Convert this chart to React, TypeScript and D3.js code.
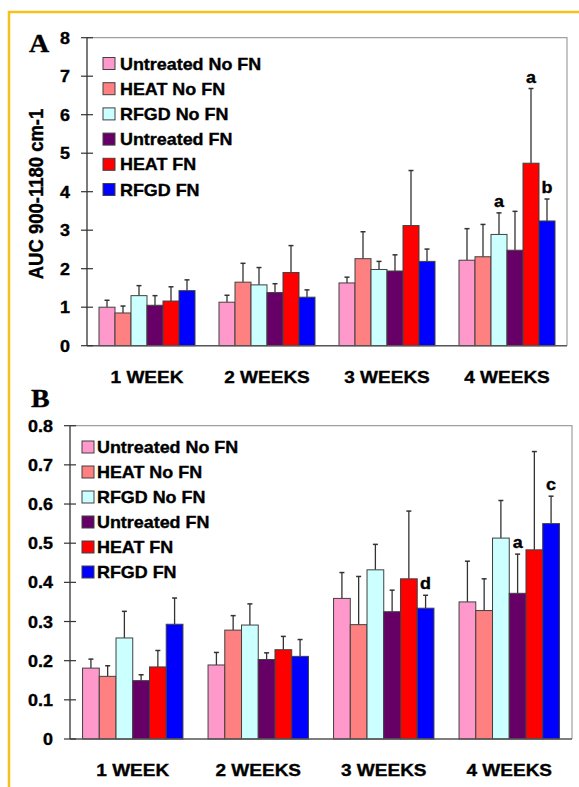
import React from "react";
import * as d3 from "d3";

// categories / series
const weeks = ["1 WEEK", "2 WEEKS", "3 WEEKS", "4 WEEKS"];
const seriesNames = ["Untreated No FN", "HEAT No FN", "RFGD No FN", "Untreated FN", "HEAT FN", "RFGD FN"];
const seriesColors = ["#ff99cc", "#ff8080", "#ccffff", "#660066", "#ff0000", "#0000ff"];

// panel A: AUC 900-1180 cm-1 (mean, sd per week)
const aucUntreatedNoFN = [1.0, 1.13, 1.63, 2.22];
const aucHeatNoFN = [0.85, 1.65, 2.26, 2.31];
const aucRfgdNoFN = [1.3, 1.58, 1.98, 2.89];
const aucUntreatedFN = [1.05, 1.38, 1.94, 2.48];
const aucHeatFN = [1.16, 1.9, 3.12, 4.74];
const aucRfgdFN = [1.43, 1.26, 2.19, 3.24];
const aucSdUntreatedNoFN = [0.18, 0.18, 0.15, 0.82];
const aucSdHeatNoFN = [0.18, 0.49, 0.7, 0.84];
const aucSdRfgdNoFN = [0.26, 0.45, 0.21, 0.56];
const aucSdUntreatedFN = [0.25, 0.23, 0.42, 1.01];
const aucSdHeatFN = [0.37, 0.7, 1.43, 1.94];
const aucSdRfgdFN = [0.28, 0.19, 0.32, 0.57];
const aTicks = [0, 1, 2, 3, 4, 5, 6, 7, 8];
const aNotes = [
  { week: 3, series: 2, label: "a" },
  { week: 3, series: 4, label: "a" },
  { week: 3, series: 5, label: "b" },
];

// panel B
const bUntreatedNoFN = [0.181, 0.189, 0.359, 0.35];
const bHeatNoFN = [0.16, 0.278, 0.292, 0.328];
const bRfgdNoFN = [0.258, 0.291, 0.432, 0.513];
const bUntreatedFN = [0.149, 0.203, 0.325, 0.372];
const bHeatFN = [0.184, 0.228, 0.409, 0.483];
const bRfgdFN = [0.293, 0.211, 0.334, 0.55];
const bSdUntreatedNoFN = [0.023, 0.032, 0.066, 0.104];
const bSdHeatNoFN = [0.027, 0.037, 0.123, 0.081];
const bSdRfgdNoFN = [0.068, 0.054, 0.065, 0.096];
const bSdUntreatedFN = [0.015, 0.017, 0.055, 0.1];
const bSdHeatFN = [0.042, 0.034, 0.173, 0.251];
const bSdRfgdFN = [0.067, 0.043, 0.033, 0.07];
const bTicks = [0, 0.1, 0.2, 0.3, 0.4, 0.5, 0.6, 0.7, 0.8];
const bNotes = [
  { week: 2, series: 5, label: "d" },
  { week: 3, series: 3, label: "a" },
  { week: 3, series: 5, label: "c" },
];

const SX = 1.12; // the original text is a bit wide
const FONT = "'Liberation Sans', Arial, sans-serif";

const T = ({ x, y, size, anchor = "start", children, rotate = 0, family = FONT }) => (
  <text
    transform={`translate(${x},${y}) scale(${SX},1)${rotate ? ` rotate(${rotate})` : ""}`}
    fontFamily={family}
    fontWeight="bold"
    fontSize={size}
    textAnchor={anchor}
    fill="#000"
    stroke="#000"
    strokeWidth={0.35}
  >
    {children}
  </text>
);

const Panel = ({ means, sds, ticks, tickFmt, notes, box, legend, letter, yLabel }) => {
  const { left, right, top, bottom, max } = box;
  const x0 = d3.scaleBand().domain(weeks).range([left, right]).paddingInner(0.2).paddingOuter(0.1);
  const x1 = d3.scaleBand().domain(seriesNames).range([0, x0.bandwidth()]);
  const y = d3.scaleLinear().domain([0, max]).range([bottom, top]);

  return (
    <g>
      {/* plot frame */}
      <path d={`M${left},${top}H${right}V${bottom}`} fill="none" stroke="#a0a0a0" strokeWidth={1.2} />
      {seriesNames.map((s, si) =>
        weeks.map((w, wi) => {
          const bx = x0(w) + x1(s);
          const v = means[si][wi];
          const e = v + sds[si][wi];
          const cx = bx + x1.bandwidth() / 2;
          return (
            <g key={s + w}>
              <line x1={cx} x2={cx} y1={y(v)} y2={y(e)} stroke="#333" strokeWidth={1.3} />
              <line x1={cx - 2.5} x2={cx + 2.5} y1={y(e)} y2={y(e)} stroke="#333" strokeWidth={1.5} />
              <rect x={bx} y={y(v)} width={x1.bandwidth()} height={bottom - y(v)} fill={seriesColors[si]} stroke="#404040" strokeWidth={1} />
            </g>
          );
        })
      )}
      {notes.map((n, i) => {
        const cx = x0(weeks[n.week]) + x1(seriesNames[n.series]) + x1.bandwidth() / 2;
        const e = means[n.series][n.week] + sds[n.series][n.week];
        return (
          <T key={i} x={cx} y={y(e) - 6} size={16} anchor="middle">
            {n.label}
          </T>
        );
      })}
      {/* axes */}
      <line x1={left} x2={left} y1={top} y2={bottom} stroke="#333" strokeWidth={1.3} />
      <line x1={left} x2={right} y1={bottom} y2={bottom} stroke="#555" strokeWidth={1.5} />
      {ticks.map((t) => (
        <g key={t}>
          <line x1={left - 6} x2={left + 6} y1={y(t)} y2={y(t)} stroke="#333" strokeWidth={1.2} />
          <T x={left - 17} y={y(t) + 6} size={16} anchor="end">
            {tickFmt(t)}
          </T>
        </g>
      ))}
      {weeks.map((w) => (
        <T key={w} x={x0(w) + x0.bandwidth() / 2} y={bottom + 37} size={17} anchor="middle">
          {w}
        </T>
      ))}
      {/* legend */}
      {seriesNames.map((s, i) => {
        const cy = legend.y + i * legend.step;
        return (
          <g key={s}>
            <rect x={legend.x} y={cy - 6} width={12} height={12} fill={seriesColors[i]} stroke="#404040" strokeWidth={1} />
            <T x={legend.x + legend.gap} y={cy + 6} size={16}>
              {s}
            </T>
          </g>
        );
      })}
      <T x={letter.x} y={letter.y} size={25} family="'Liberation Serif', 'Times New Roman', serif">
        {letter.text}
      </T>
      {yLabel && (
        <T x={yLabel.x} y={yLabel.y} size={18.5} anchor="middle" rotate={-90}>
          {yLabel.text}
        </T>
      )}
    </g>
  );
};

export default function App() {
  const aMeans = [aucUntreatedNoFN, aucHeatNoFN, aucRfgdNoFN, aucUntreatedFN, aucHeatFN, aucRfgdFN];
  const aSds = [aucSdUntreatedNoFN, aucSdHeatNoFN, aucSdRfgdNoFN, aucSdUntreatedFN, aucSdHeatFN, aucSdRfgdFN];
  const bMeans = [bUntreatedNoFN, bHeatNoFN, bRfgdNoFN, bUntreatedFN, bHeatFN, bRfgdFN];
  const bSds = [bSdUntreatedNoFN, bSdHeatNoFN, bSdRfgdNoFN, bSdUntreatedFN, bSdHeatFN, bSdRfgdFN];
  const fmtA = d3.format("d");
  const fmtB = (d) => (d === 0 ? "0" : d3.format(".1f")(d));

  return (
    <svg width={579} height={787} style={{ position: "absolute", left: 0, top: 0, background: "#fff" }}>
      <rect width={579} height={787} fill="#fff" />
      {/* yellow frame */}
      <path d="M9,787V12H579" fill="none" stroke="#f5c21b" strokeWidth={2.5} />
      <Panel
        means={aMeans}
        sds={aSds}
        ticks={aTicks}
        tickFmt={fmtA}
        notes={aNotes}
        box={{ left: 87, right: 567, top: 37.7, bottom: 345.7, max: 8 }}
        legend={{ x: 103, y: 63.5, step: 25.2, gap: 17 }}
        letter={{ x: 29, y: 52, text: "A" }}
        yLabel={{ x: 43, y: 194, text: "AUC 900-1180 cm-1" }}
      />
      <Panel
        means={bMeans}
        sds={bSds}
        ticks={bTicks}
        tickFmt={fmtB}
        notes={bNotes}
        box={{ left: 70, right: 572, top: 425.7, bottom: 739, max: 0.8 }}
        legend={{ x: 82, y: 447, step: 25, gap: 15 }}
        letter={{ x: 31, y: 407, text: "B" }}
      />
    </svg>
  );
}
